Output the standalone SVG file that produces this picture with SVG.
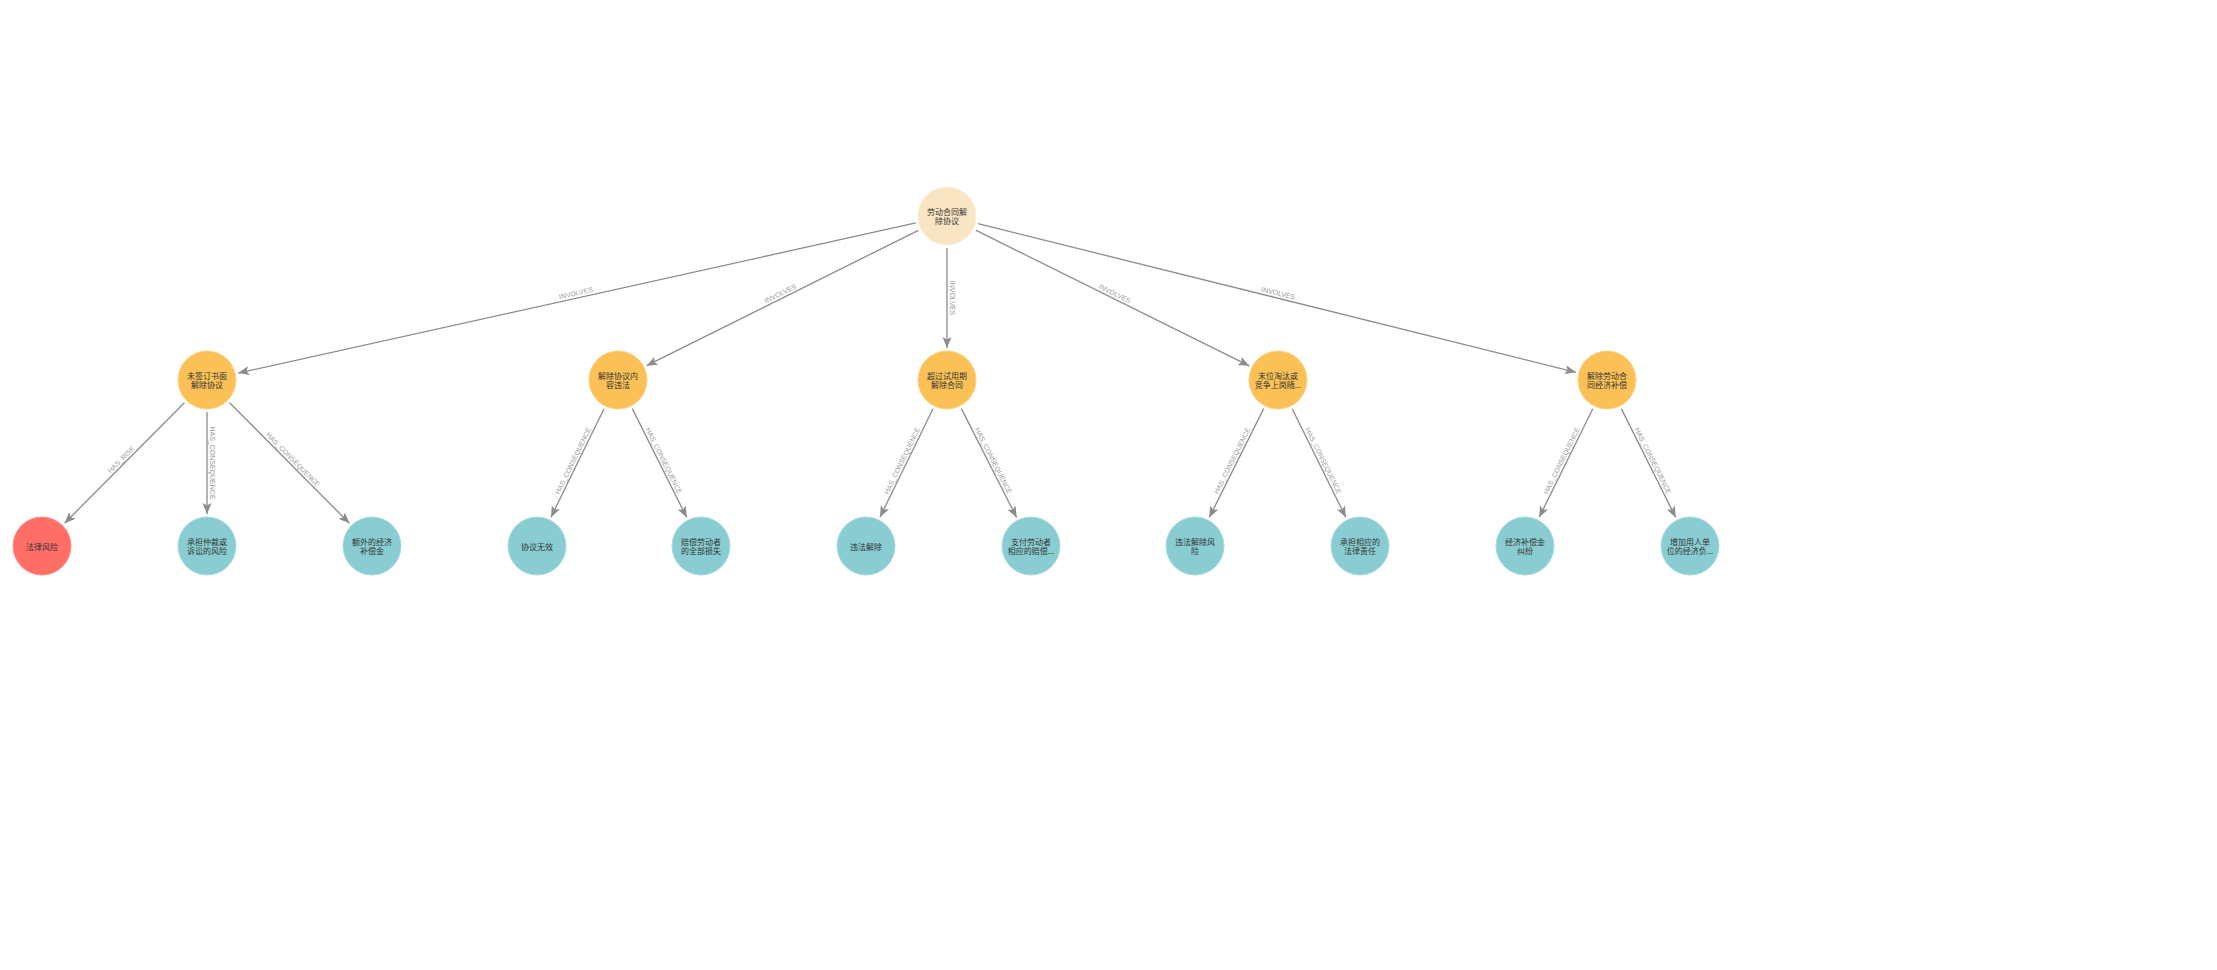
<svg xmlns="http://www.w3.org/2000/svg" width="2217" height="970" viewBox="0 0 2217 970">
<style>
.edge{stroke:#8c8c8c;stroke-width:1.3;fill:none;marker-end:url(#arr)}
.el{font-family:"Liberation Sans",Arial,sans-serif;font-size:7px;fill:#9a9a9a;text-anchor:middle}
.nt{font-family:"Noto Sans CJK SC","Noto Sans",sans-serif;font-size:8px;fill:#333;text-anchor:middle;dominant-baseline:central}
.root{fill:#fae5c3;stroke:#fbeed8;stroke-width:1}
.mid{fill:#fbc157;stroke:#fcd286;stroke-width:1}
.leaf{fill:#89cdd2;stroke:#a8dbdf;stroke-width:1}
.risk{fill:#ff6f68;stroke:#ff8f8a;stroke-width:1}
</style>
<defs>
<marker id="arr" markerUnits="userSpaceOnUse" markerWidth="12" markerHeight="10" refX="11" refY="4.5" orient="auto">
<path d="M0,0 L11,4.5 L0,9 L2.5,4.5 z" fill="#8c8c8c"/>
</marker>
</defs>
<rect width="2217" height="970" fill="#ffffff"/>
<g id="connectors">
<line class="edge" x1="915.8" y1="222.9" x2="238.2" y2="373.1"/>
<line class="edge" x1="918.4" y1="230.3" x2="646.6" y2="365.7"/>
<line class="edge" x1="947" y1="248" x2="947" y2="348"/>
<line class="edge" x1="975.7" y1="230.2" x2="1249.3" y2="365.8"/>
<line class="edge" x1="978.1" y1="223.7" x2="1575.9" y2="372.3"/>
<line class="edge" x1="184.4" y1="402.7" x2="64.6" y2="523.3"/>
<line class="edge" x1="207" y1="412" x2="207" y2="514"/>
<line class="edge" x1="229.6" y1="402.7" x2="349.4" y2="523.3"/>
<line class="edge" x1="604.0" y1="408.8" x2="551.0" y2="517.2"/>
<line class="edge" x1="632.3" y1="408.6" x2="686.7" y2="517.4"/>
<line class="edge" x1="933.0" y1="408.8" x2="880.0" y2="517.2"/>
<line class="edge" x1="961.4" y1="408.6" x2="1016.6" y2="517.4"/>
<line class="edge" x1="1263.7" y1="408.6" x2="1209.3" y2="517.4"/>
<line class="edge" x1="1292.2" y1="408.7" x2="1345.8" y2="517.3"/>
<line class="edge" x1="1592.8" y1="408.7" x2="1539.2" y2="517.3"/>
<line class="edge" x1="1621.3" y1="408.6" x2="1675.7" y2="517.4"/>
<text class="el" transform="translate(577,298) rotate(-12.5)" y="-2.5">INVOLVES</text>
<text class="el" transform="translate(782.5,298) rotate(-26.5)" y="-2.5">INVOLVES</text>
<text class="el" transform="translate(947,298) rotate(90)" y="-2.5">INVOLVES</text>
<text class="el" transform="translate(1112.5,298) rotate(26.35)" y="-2.5">INVOLVES</text>
<text class="el" transform="translate(1277,298) rotate(13.95)" y="-2.5">INVOLVES</text>
<text class="el" transform="translate(124.5,463) rotate(-45.17)" y="-2.5">HAS_RISK</text>
<text class="el" transform="translate(207,463) rotate(90)" y="-2.5">HAS_CONSEQUENCE</text>
<text class="el" transform="translate(289.5,463) rotate(45.17)" y="-2.5">HAS_CONSEQUENCE</text>
<text class="el" transform="translate(577.5,463) rotate(-64)" y="-2.5">HAS_CONSEQUENCE</text>
<text class="el" transform="translate(659.5,463) rotate(63.43)" y="-2.5">HAS_CONSEQUENCE</text>
<text class="el" transform="translate(906.5,463) rotate(-64)" y="-2.5">HAS_CONSEQUENCE</text>
<text class="el" transform="translate(989,463) rotate(63.16)" y="-2.5">HAS_CONSEQUENCE</text>
<text class="el" transform="translate(1236.5,463) rotate(-63.43)" y="-2.5">HAS_CONSEQUENCE</text>
<text class="el" transform="translate(1319,463) rotate(63.71)" y="-2.5">HAS_CONSEQUENCE</text>
<text class="el" transform="translate(1566,463) rotate(-63.71)" y="-2.5">HAS_CONSEQUENCE</text>
<text class="el" transform="translate(1648.5,463) rotate(63.43)" y="-2.5">HAS_CONSEQUENCE</text>
</g>
<g id="n-root"><circle class="root" cx="947" cy="216" r="29"/><text class="nt" x="947" y="211.5">劳动合同解</text><text class="nt" x="947" y="220.5">除协议</text></g>
<g id="n-a"><circle class="mid" cx="207" cy="380" r="29"/><text class="nt" x="207" y="375.5">未签订书面</text><text class="nt" x="207" y="384.5">解除协议</text></g>
<g id="n-b"><circle class="mid" cx="618" cy="380" r="29"/><text class="nt" x="618" y="375.5">解除协议内</text><text class="nt" x="618" y="384.5">容违法</text></g>
<g id="n-c"><circle class="mid" cx="947" cy="380" r="29"/><text class="nt" x="947" y="375.5">超过试用期</text><text class="nt" x="947" y="384.5">解除合同</text></g>
<g id="n-d"><circle class="mid" cx="1278" cy="380" r="29"/><text class="nt" x="1278" y="375.5">末位淘汰或</text><text class="nt" x="1278" y="384.5">竞争上岗随...</text></g>
<g id="n-e"><circle class="mid" cx="1607" cy="380" r="29"/><text class="nt" x="1607" y="375.5">解除劳动合</text><text class="nt" x="1607" y="384.5">同经济补偿</text></g>
<g id="n-a1"><circle class="risk" cx="42" cy="546" r="29"/><text class="nt" x="42" y="546">法律风险</text></g>
<g id="n-a2"><circle class="leaf" cx="207" cy="546" r="29"/><text class="nt" x="207" y="541.5">承担仲裁或</text><text class="nt" x="207" y="550.5">诉讼的风险</text></g>
<g id="n-a3"><circle class="leaf" cx="372" cy="546" r="29"/><text class="nt" x="372" y="541.5">额外的经济</text><text class="nt" x="372" y="550.5">补偿金</text></g>
<g id="n-b1"><circle class="leaf" cx="537" cy="546" r="29"/><text class="nt" x="537" y="546">协议无效</text></g>
<g id="n-b2"><circle class="leaf" cx="701" cy="546" r="29"/><text class="nt" x="701" y="541.5">赔偿劳动者</text><text class="nt" x="701" y="550.5">的全部损失</text></g>
<g id="n-c1"><circle class="leaf" cx="866" cy="546" r="29"/><text class="nt" x="866" y="546">违法解除</text></g>
<g id="n-c2"><circle class="leaf" cx="1031" cy="546" r="29"/><text class="nt" x="1031" y="541.5">支付劳动者</text><text class="nt" x="1031" y="550.5">相应的赔偿...</text></g>
<g id="n-d1"><circle class="leaf" cx="1195" cy="546" r="29"/><text class="nt" x="1195" y="541.5">违法解除风</text><text class="nt" x="1195" y="550.5">险</text></g>
<g id="n-d2"><circle class="leaf" cx="1360" cy="546" r="29"/><text class="nt" x="1360" y="541.5">承担相应的</text><text class="nt" x="1360" y="550.5">法律责任</text></g>
<g id="n-e1"><circle class="leaf" cx="1525" cy="546" r="29"/><text class="nt" x="1525" y="541.5">经济补偿金</text><text class="nt" x="1525" y="550.5">纠纷</text></g>
<g id="n-e2"><circle class="leaf" cx="1690" cy="546" r="29"/><text class="nt" x="1690" y="541.5">增加用人单</text><text class="nt" x="1690" y="550.5">位的经济负...</text></g>
</svg>
